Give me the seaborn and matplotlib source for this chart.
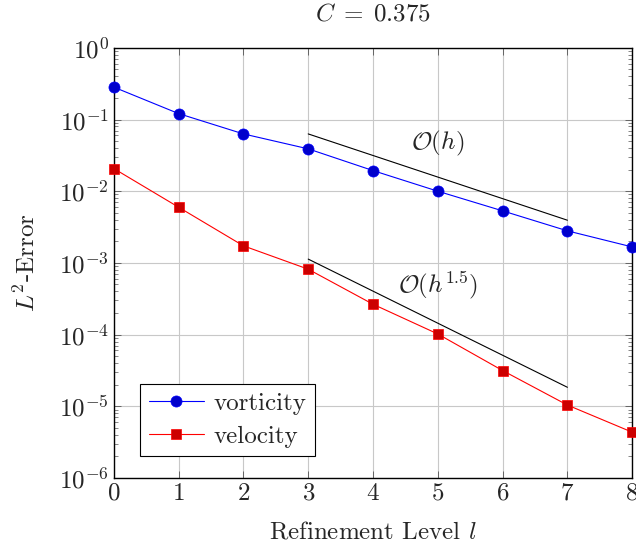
import numpy as np
import pandas as pd
import matplotlib
matplotlib.use('Agg')
import matplotlib.pyplot as plt
import seaborn as sns

# data
levels = [0, 1, 2, 3, 4, 5, 6, 7, 8]
vorticity = [0.283, 0.121, 0.063, 0.039, 0.0194, 0.0100, 0.00532, 0.0028, 0.00167]
velocity = [0.0207, 0.00598, 0.00173, 0.000817, 0.000265, 0.000102, 3.15e-5, 1.04e-5, 4.35e-6]

ref_x = [3, 7]
ref_h = [0.063, 0.00394]
ref_h15 = [1.13e-3, 1.84e-5]

sns.set_style('ticks')
plt.rcParams['font.family'] = ['cmr10', 'DejaVu Serif']
plt.rcParams['mathtext.fontset'] = 'cm'
plt.rcParams['axes.formatter.use_mathtext'] = True
plt.rcParams['axes.unicode_minus'] = False
fs = 18

fig = plt.figure(figsize=(6.36, 5.5), dpi=100)
ax = fig.add_axes([0.179, 0.131, 0.815, 0.782])

df = pd.DataFrame({'level': levels, 'vorticity': vorticity, 'velocity': velocity})

sns.lineplot(data=df, x='level', y='vorticity', ax=ax, color='blue', lw=0.8,
             marker='o', markersize=8, markerfacecolor='#0000cc',
             markeredgecolor='blue', markeredgewidth=0.5, label='vorticity',
             zorder=3, clip_on=False)
sns.lineplot(data=df, x='level', y='velocity', ax=ax, color='red', lw=0.8,
             marker='s', markersize=7.2, markerfacecolor='#cc0000',
             markeredgecolor='red', markeredgewidth=0.5, label='velocity',
             zorder=3, clip_on=False)

# convergence-order reference slopes
ax.plot(ref_x, ref_h, color='black', lw=0.8)
ax.plot(ref_x, ref_h15, color='black', lw=0.8)
ax.text(5.0, 0.047, r'$\mathcal{O}(h)$', fontsize=fs, ha='center', va='center')
ax.text(5.0, 4.9e-4, r'$\mathcal{O}(h^{1.5})$', fontsize=fs, ha='center', va='center')

ax.set_yscale('log')
ax.set_xlim(0, 8)
ax.set_ylim(1e-6, 1e0)
ax.set_xticks(levels)
ax.set_yticks([1e-6, 1e-5, 1e-4, 1e-3, 1e-2, 1e-1, 1e0])
ax.yaxis.set_minor_locator(matplotlib.ticker.LogLocator(base=10, subs=np.arange(2, 10), numticks=20))
ax.yaxis.set_minor_formatter(matplotlib.ticker.NullFormatter())
ax.grid(True, which='major', color='#c8c8c8', lw=0.8)
ax.tick_params(which='both', direction='in', top=True, right=True, labelsize=fs, color='#555555')
ax.tick_params(which='major', length=5, width=0.6)
ax.tick_params(which='minor', length=3, width=0.5)
for s in ax.spines.values():
    s.set_linewidth(1.0)
    s.set_color('black')

ax.set_xlabel(r'Refinement Level $l$', fontsize=fs, labelpad=12)
ax.set_ylabel(r'$L^2$-Error', fontsize=fs, labelpad=14)
ax.set_title(r'$C\;=\;0.375$', fontsize=fs, pad=20)

leg = ax.legend(loc='lower left', bbox_to_anchor=(0.05, 0.05), fontsize=fs, frameon=True,
                fancybox=False, framealpha=1, edgecolor='black', borderaxespad=0,
                handlelength=2.2, handletextpad=0.4, labelspacing=0.4, borderpad=0.35)
leg.get_frame().set_linewidth(0.8)

fig.savefig('out.png', dpi=100)
